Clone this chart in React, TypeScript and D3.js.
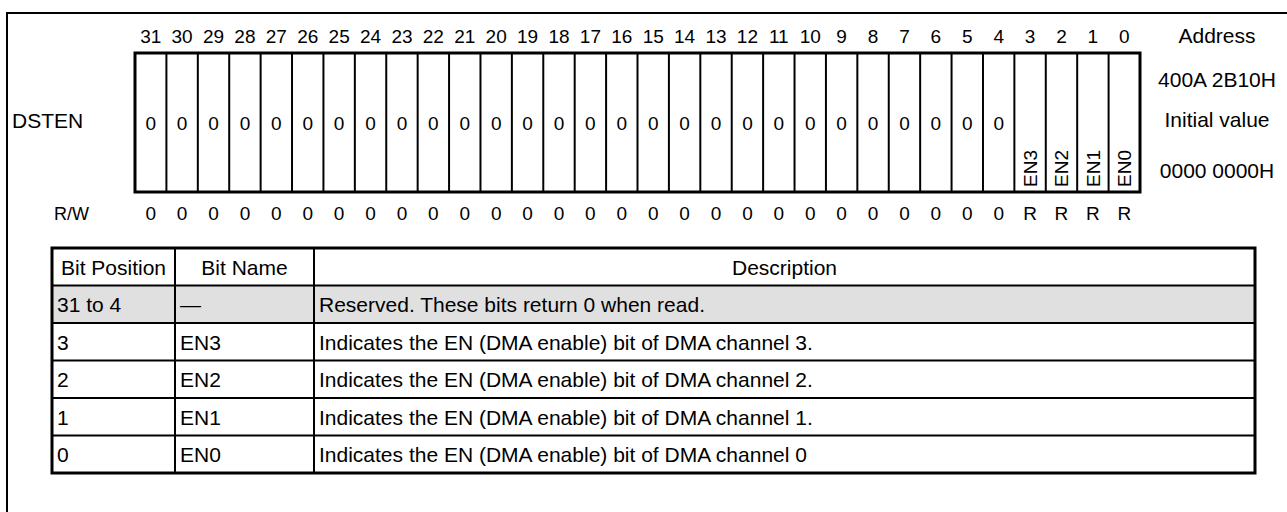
import React from "react";
import * as d3 from "d3";

const registerName = "DSTEN";
const bits = d3.range(31, -1, -1);
const bitValues: string[] = [
  "0","0","0","0","0","0","0","0","0","0","0","0","0","0","0","0",
  "0","0","0","0","0","0","0","0","0","0","0","0","EN3","EN2","EN1","EN0",
];
const rwLabel = "R/W";
const rwValues: string[] = [
  "0","0","0","0","0","0","0","0","0","0","0","0","0","0","0","0",
  "0","0","0","0","0","0","0","0","0","0","0","0","R","R","R","R",
];
const infoLabels = ["Address", "400A 2B10H", "Initial value", "0000 0000H"];
const tableHeader = ["Bit Position", "Bit Name", "Description"];
const tablePositions = ["31 to 4", "3", "2", "1", "0"];
const tableNames = ["\u2014", "EN3", "EN2", "EN1", "EN0"];
const tableDescriptions = [
  "Reserved. These bits return 0 when read.",
  "Indicates the EN (DMA enable) bit of DMA channel 3.",
  "Indicates the EN (DMA enable) bit of DMA channel 2.",
  "Indicates the EN (DMA enable) bit of DMA channel 1.",
  "Indicates the EN (DMA enable) bit of DMA channel 0",
];
const reservedRows = [true, false, false, false, false];

const W = 1287;
const H = 512;
const FONT = "'Liberation Sans', Arial, Helvetica, sans-serif";
const FS_BIG = 21;
const FS_SMALL = 19;

export default function App() {
  const x = d3.scaleBand<number>().domain(bits).range([135, 1140]).padding(0);
  const regTop = 53;
  const regBot = 192;
  const rowIdx = d3.range(tablePositions.length + 1);
  const y = d3.scaleBand<number>().domain(rowIdx).range([248, 473]).padding(0);
  const colEdges = [52, 175, 314, 1255];
  const bw = x.bandwidth();
  const rh = y.bandwidth();
  const infoY = [43, 87, 127, 178];

  return (
    <svg
      width={W}
      height={H}
      style={{ position: "absolute", left: 0, top: 0, background: "#fff" }}
      fontFamily={FONT}
      fontSize={FS_BIG}
    >
      <rect x={0} y={0} width={W} height={H} fill="#fff" />
      <path d={`M7,${H} V13 H${W}`} fill="none" stroke="#000" strokeWidth={2} />

      {bits.map((b) => (
        <text key={"bn" + b} x={(x(b) as number) + bw / 2} y={43} textAnchor="middle" fontSize={FS_SMALL} fill="#000">
          {b}
        </text>
      ))}

      <text x={12} y={128} fill="#000">{registerName}</text>

      {bits.map((b, i) =>
        i > 0 ? (
          <line key={"div" + b} x1={x(b) as number} x2={x(b) as number} y1={regTop} y2={regBot} stroke="#000" strokeWidth={2} />
        ) : null
      )}
      <rect x={135} y={regTop} width={1140 - 135} height={regBot - regTop} fill="none" stroke="#000" strokeWidth={3} />

      {bits.map((b, i) => {
        const v = bitValues[i];
        const cx = (x(b) as number) + bw / 2;
        if (v.length === 1) {
          return (
            <text key={"bv" + b} x={cx} y={130} textAnchor="middle" fontSize={FS_SMALL} fill="#000">{v}</text>
          );
        }
        return (
          <text
            key={"bv" + b}
            transform={`translate(${cx + 7},${regBot - 5}) rotate(-90)`}
            textAnchor="start"
            fontSize={FS_SMALL}
            fill="#000"
          >
            {v}
          </text>
        );
      })}

      <text x={54} y={220} fontSize={FS_SMALL - 1} fill="#000">{rwLabel}</text>
      {bits.map((b, i) => (
        <text key={"rw" + b} x={(x(b) as number) + bw / 2} y={220} textAnchor="middle" fontSize={FS_SMALL} fill="#000">
          {rwValues[i]}
        </text>
      ))}

      {infoLabels.map((t, i) => (
        <text key={"info" + i} x={1217} y={infoY[i]} textAnchor="middle" fill="#000">{t}</text>
      ))}

      {reservedRows.map((r, i) =>
        r ? (
          <rect key={"bg" + i} x={colEdges[0]} y={y(i + 1) as number} width={colEdges[3] - colEdges[0]} height={rh} fill="#e0e0e0" />
        ) : null
      )}
      {rowIdx.slice(1).map((r) => (
        <line key={"hl" + r} x1={colEdges[0]} x2={colEdges[3]} y1={y(r) as number} y2={y(r) as number} stroke="#000" strokeWidth={2} />
      ))}
      {[colEdges[1], colEdges[2]].map((cx) => (
        <line key={"vl" + cx} x1={cx} x2={cx} y1={248} y2={473} stroke="#000" strokeWidth={2} />
      ))}
      <rect x={colEdges[0]} y={248} width={colEdges[3] - colEdges[0]} height={473 - 248} fill="none" stroke="#000" strokeWidth={3} />

      {tableHeader.map((h, i) => (
        <text
          key={"th" + i}
          x={(colEdges[i] + colEdges[i + 1]) / 2}
          y={(y(0) as number) + rh / 2 + 8}
          textAnchor="middle"
          fill="#000"
        >
          {h}
        </text>
      ))}
      {tablePositions.map((p, i) => {
        const ty = (y(i + 1) as number) + rh / 2 + 8;
        return (
          <g key={"tr" + i}>
            <text x={colEdges[0] + 5} y={ty} fill="#000">{p}</text>
            <text x={colEdges[1] + 5} y={ty} fill="#000">{tableNames[i]}</text>
            <text x={colEdges[2] + 5} y={ty} fill="#000">{tableDescriptions[i]}</text>
          </g>
        );
      })}
    </svg>
  );
}
